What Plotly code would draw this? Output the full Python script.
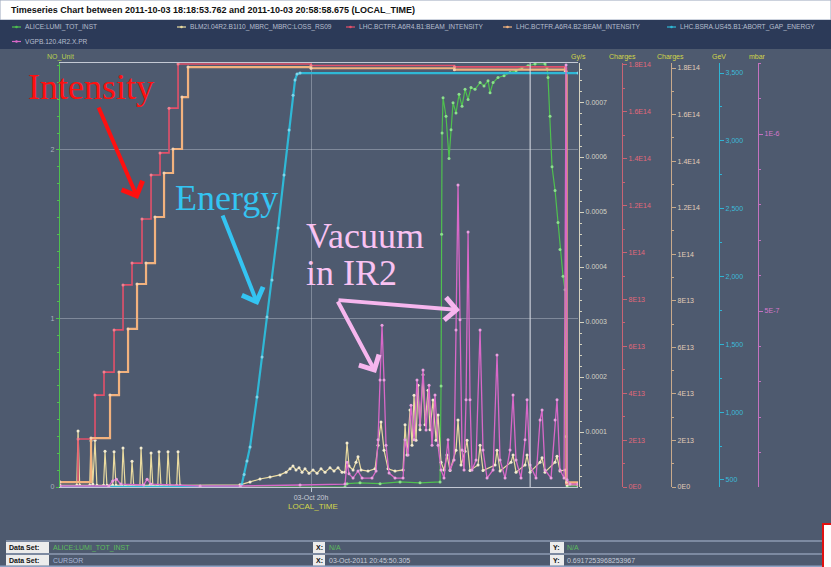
import pandas as pd
import plotly.graph_objects as go

W, H = 831, 567
T0 = pd.Timestamp("2011-10-03 19:00:00")
FONT = "Liberation Sans"
SERIF = "Liberation Serif"

# ---------------- data (minutes after 19:00 local time, values) ----------------
lumi_min = [7.49, 67.11, 67.53, 70.25, 74.44, 78.62, 82.80, 86.99, 87.20, 87.31, 87.41, 87.62,
            88.24, 88.87, 89.29, 89.71, 90.33, 90.96, 91.59, 92.22, 92.85, 93.47, 94.31, 95.36,
            96.19, 97.03, 97.45, 98.08, 99.12, 100.38, 101.63, 102.89, 104.14, 105.40, 106.86,
            108.95, 109.37, 109.58, 110.00, 110.42, 111.05, 111.67, 112.09, 112.72, 113.14,
            113.35, 113.56, 115.86]
lumi_val = [0.0, 0.0, 0.02, 0.025, 0.02, 0.03, 0.025, 0.03, 0.6, 1.5, 2.1, 2.31,
            2.2, 1.95, 2.12, 2.28, 2.22, 2.33, 2.26, 2.36, 2.30, 2.37, 2.36, 2.40,
            2.38, 2.41, 2.34, 2.40, 2.43, 2.44, 2.46, 2.47, 2.49, 2.50, 2.51,
            2.51, 2.49, 2.43, 2.20, 1.90, 1.76, 1.57, 1.41, 1.25, 1.17,
            0.3, 0.0, 0.0]

blm_min = [7.49, 11.0, 11.26, 11.6, 13.7, 13.97, 14.35, 14.81, 15.2, 16.6, 16.9, 17.3,
           18.5, 18.79, 19.2, 20.4, 20.67, 21.1, 22.3, 22.55, 22.9, 24.2, 24.44, 24.8,
           26.3, 26.53, 26.9, 27.95, 28.2, 28.6, 29.8, 30.08, 30.5, 31.9, 32.18, 32.6,
           45.15, 47.24, 49.33, 51.42, 53.51, 54.77, 55.61, 56.23, 56.86, 57.49, 58.12,
           58.74, 59.58, 60.42, 61.26, 62.09, 62.93, 63.97, 64.81, 65.65, 66.49, 67.11,
           67.53, 67.95, 68.79, 69.41, 69.83, 70.46, 71.92, 73.39, 74.02, 74.64, 75.27,
           76.11, 77.57, 79.25, 79.67, 80.08, 80.71, 81.13, 81.55, 81.97, 82.38, 82.80,
           83.43, 83.85, 84.48, 84.90, 85.52, 86.15, 86.57, 87.20, 87.82, 88.45, 89.08,
           90.33, 90.75, 91.38, 92.22, 92.64, 93.26, 94.94, 95.36, 95.98, 98.50, 98.91,
           99.54, 101.84, 102.26, 102.89, 104.77, 105.19, 105.82, 107.91, 108.33, 108.95,
           111.05, 111.46, 112.09, 113.14, 113.56, 115.86]
blm_val = [3e-6, 3e-6, 1.02e-4, 3e-6, 3e-6, 8.4e-5, 5e-6, 8.5e-5, 3e-6, 3e-6, 6.5e-5, 3e-6,
           3e-6, 6.4e-5, 3e-6, 3e-6, 7.1e-5, 3e-6, 3e-6, 4.7e-5, 3e-6, 3e-6, 7.1e-5, 3e-6,
           3e-6, 6.2e-5, 3e-6, 3e-6, 6.4e-5, 3e-6, 3e-6, 6.4e-5, 3e-6, 3e-6, 6.4e-5, 3e-6,
           4e-6, 9e-6, 1.45e-5, 1.8e-5, 2.2e-5, 2.7e-5, 3.3e-5, 3.8e-5, 3.1e-5, 3.5e-5, 2.7e-5,
           3.3e-5, 2.5e-5, 3.1e-5, 2.5e-5, 3.3e-5, 2.7e-5, 3.5e-5, 2.9e-5, 3.5e-5, 2.7e-5, 2.7e-5,
           8.0e-5, 3.8e-5, 3.1e-5, 4.5e-5, 5.5e-5, 3.1e-5, 2.9e-5, 3.3e-5, 7.6e-5, 1.18e-4, 6.7e-5,
           3.3e-5, 2.9e-5, 3.1e-5, 1.13e-4, 5.8e-5, 1.40e-4, 7.6e-5, 1.67e-4, 8.5e-5, 1.85e-4, 1.04e-4,
           2.04e-4, 1.13e-4, 1.76e-4, 1.04e-4, 1.58e-4, 8.5e-5, 1.31e-4, 4.5e-5, 3.1e-5, 5.8e-5, 3.0e-5,
           6.7e-5, 1.22e-4, 4.0e-5, 6.5e-5, 8.5e-5, 3.0e-5, 4.0e-5, 7.6e-5, 3.0e-5, 4.0e-5, 6.7e-5,
           2.9e-5, 4.5e-5, 5.8e-5, 2.7e-5, 4.0e-5, 5.8e-5, 2.7e-5, 4.5e-5, 5.3e-5, 2.7e-5,
           4.5e-5, 5.6e-5, 2.9e-5, 3.1e-5, 3.6e-6, 3.6e-6]

b1_min = [7.49, 11.26, 14.81, 16.69, 18.79, 20.67, 22.55, 24.64, 26.53, 28.41, 30.29, 32.18,
          60.0, 90.0, 113.2, 113.45, 115.86]
b1_val = [0.21e13, 2.05e13, 3.92e13, 4.90e13, 6.70e13, 8.62e13, 9.55e13, 11.43e13, 13.31e13,
          14.25e13, 16.16e13, 18.04e13, 17.98e13, 17.92e13, 17.87e13, 0.15e13, 0.10e13]

b2_min = [7.49, 13.97, 17.95, 19.83, 21.72, 23.60, 25.48, 27.36, 29.25, 31.13, 33.01, 34.27,
          60.0, 90.0, 113.2, 113.45, 115.86]
b2_val = [0.21e13, 2.10e13, 3.95e13, 4.94e13, 6.79e13, 8.72e13, 9.62e13, 11.60e13, 13.49e13,
          14.52e13, 16.75e13, 18.04e13, 17.99e13, 17.93e13, 17.85e13, 0.20e13, 0.15e13]

energy_min = [7.49, 45.15, 45.5, 46.0, 46.6, 47.24, 48.70, 49.75, 50.79, 51.84, 53.10, 54.35,
              55.40, 56.23, 56.65, 57.07, 57.70, 115.86]
energy_val = [450, 450, 465, 540, 640, 743, 1112, 1406, 1701, 1974, 2357, 2748,
              3080, 3337, 3448, 3492, 3500, 3500]

vac_min = [7.49, 17.7, 18.5, 19.3, 20.2, 25.0, 25.7, 26.5, 36.8, 45.2, 57.7, 67.11, 67.53, 67.95,
           68.79, 69.83, 70.67, 72.76, 73.6, 74.02, 74.44, 74.85, 75.27, 75.69, 76.32, 77.57,
           79.25, 79.67, 80.29, 80.92, 81.55, 82.17, 82.80, 83.43, 84.06, 84.69, 85.31, 85.94,
           86.57, 87.2, 87.82, 88.66, 89.08, 89.92, 90.33, 90.75, 91.17, 91.59, 92.01, 92.43,
           92.85, 93.26, 93.68, 94.52, 95.36, 95.98, 96.82, 98.08, 98.91, 99.54, 100.59, 101.63,
           102.26, 102.89, 103.93, 104.77, 105.19, 105.82, 107.07, 107.91, 108.33, 108.95, 110.21,
           111.05, 111.46, 112.09, 112.93, 113.35, 113.56, 114.18, 115.86]
vac_val = [5.6e-9, 5.6e-9, 2.0e-8, 2.5e-8, 1.1e-8, 8.5e-9, 2.5e-8, 1.1e-8, 5.6e-9, 5.6e-9, 8.5e-9,
           1.1e-8, 7.3e-8, 4.0e-8, 2.8e-8, 4.8e-8, 2.8e-8, 2.8e-8, 4.8e-8, 1.36e-7, 3.05e-7,
           4.6e-7, 3.05e-7, 1.21e-7, 4.2e-8, 2.8e-8, 2.8e-8, 1.36e-7, 9.3e-8, 2.34e-7, 1.36e-7,
           3.05e-7, 1.78e-7, 3.33e-7, 1.64e-7, 2.9e-7, 1.21e-7, 2.63e-7, 1.21e-7, 5.1e-8, 2.8e-8,
           1.36e-7, 5.1e-8, 7.9e-8, 4.46e-7, 8.56e-7, 4.75e-7, 1.07e-7, 5.1e-8, 2.49e-7, 7.23e-7,
           2.49e-7, 5.1e-8, 7.9e-8, 4.46e-7, 1.07e-7, 2.8e-8, 5.1e-8, 3.76e-7, 7.9e-8, 2.8e-8,
           1.07e-7, 2.63e-7, 7.9e-8, 2.8e-8, 1.36e-7, 2.49e-7, 6.5e-8, 2.8e-8, 1.92e-7, 2.2e-7,
           5.1e-8, 2.8e-8, 1.92e-7, 2.49e-7, 5.1e-8, 2.8e-8, 1.195e-6, 2.3e-8, 1.1e-8, 1.1e-8]

charge_ticks = [0, 2e13, 4e13, 6e13, 8e13, 1e14, 1.2e14, 1.4e14, 1.6e14, 1.8e14]
charge_text = ["0E0", "2E13", "4E13", "6E13", "8E13", "1E14", "1.2E14", "1.4E14", "1.6E14", "1.8E14"]
gys_ticks = [1e-4, 2e-4, 3e-4, 4e-4, 5e-4, 6e-4, 7e-4]
gys_text = ["0.0001", "0.0002", "0.0003", "0.0004", "0.0005", "0.0006", "0.0007"]
gev_ticks = [500, 1000, 1500, 2000, 2500, 3000, 3500]
gev_text = ["500", "1,000", "1,500", "2,000", "2,500", "3,000", "3,500"]
mbar_ticks = [5e-7, 1e-6]
mbar_text = ["5E-7", "1E-6"]
left_ticks = [0, 1, 2]

cursor_time = "2011-10-03 20:45:50.305"
x_view = ["2011-10-03 19:07:29", "2011-10-03 20:55:51"]

# ---------------- styling ----------------
BG = "#4e5a6f"
NAVY = "#2c3a58"
C_LUMI = "#4fc04f"
C_BLM = "#eadba0"
C_B1 = "#e2506a"
C_B2 = "#f2b27e"
C_EN = "#2fb8d6"
C_VAC = "#d868c8"


def tm(mins):
    return [T0 + pd.Timedelta(minutes=m) for m in mins]


def px(x):
    return x / W


def py(y):
    return 1 - y / H


fig = go.Figure()

traces = [
    ("LHC.BSRA.US45.B1:ABORT_GAP_ENERGY", energy_min, energy_val, "y5", C_EN, 2.2, "linear", "#7fd6ea"),
    ("LHC.BCTFR.A6R4.B2:BEAM_INTENSITY", b2_min, b2_val, "y4", C_B2, 2.2, "hv", "#f6d2b0"),
    ("LHC.BCTFR.A6R4.B1:BEAM_INTENSITY", b1_min, b1_val, "y3", C_B1, 1.6, "hv", "#f08090"),
    ("BLM2I.04R2.B1I10_MBRC_MBRC:LOSS_RS09", blm_min, blm_val, "y2", C_BLM, 1.2, "linear", "#f4ecd0"),
    ("VGPB.120.4R2.X.PR", vac_min, vac_val, "y6", C_VAC, 1.3, "linear", "#eaa0e0"),
    ("ALICE:LUMI_TOT_INST", lumi_min, lumi_val, "y", C_LUMI, 1.2, "linear", "#8ce08c"),
]
for name, xm, yv, ax, col, lw, shape, mcol in traces:
    fig.add_trace(go.Scatter(
        x=tm(xm), y=yv, yaxis=ax, name=name, mode="lines+markers",
        line=dict(color=col, width=lw, shape=shape),
        marker=dict(size=3, color=mcol), showlegend=False, hoverinfo="skip"))

DOM = [py(487), py(63)]


def raxis(xpos, col, labcol, rng, tv, tt, mdt):
    return dict(overlaying="y", anchor="free", position=px(xpos), side="right",
                range=rng, tickmode="array", tickvals=tv, ticktext=tt,
                ticks="outside", ticklen=4, tickcolor=col, tickwidth=1,
                showline=True, linecolor=col, linewidth=1.2, showgrid=False, zeroline=False,
                tickfont=dict(size=7, color=labcol, family=FONT),
                minor=dict(dtick=mdt, tick0=0, ticks="outside", ticklen=2, tickcolor=col, showgrid=False),
                automargin=False, fixedrange=True)


fig.update_layout(
    width=W, height=H, margin=dict(l=0, r=0, t=0, b=0),
    paper_bgcolor=BG, plot_bgcolor=BG, template="none",
    font=dict(family=FONT, size=7, color="#c8ccd6"),
    showlegend=False,
    xaxis=dict(domain=[px(60), px(578)], type="date", range=x_view,
               tickmode="array", tickvals=["2011-10-03 20:00:00"], ticktext=["03-Oct 20h"],
               ticks="outside", ticklen=4, tickcolor="#c0c6d2",
               tickfont=dict(size=7, color="#c8ccd6", family=FONT),
               showgrid=True, gridcolor="rgba(220,225,235,0.35)", gridwidth=1,
               showline=True, linecolor="#c4c9d4", linewidth=1, mirror=True,
               zeroline=False, automargin=False, fixedrange=True),
    yaxis=dict(domain=DOM, range=[0, 2.516], tickmode="array", tickvals=left_ticks,
               ticks="outside", ticklen=3, tickcolor=C_LUMI,
               tickfont=dict(size=7, color="#a9b2bc", family=FONT),
               showgrid=True, gridcolor="rgba(220,225,235,0.35)", gridwidth=1,
               showline=True, linecolor=C_LUMI, linewidth=1.2, zeroline=False,
               minor=dict(dtick=0.1, tick0=0, ticks="outside", ticklen=2, tickcolor=C_LUMI, showgrid=False),
               automargin=False, fixedrange=True),
    yaxis2=raxis(579, "#d6d3c0", "#d4d2c4", [0, 7.71e-4], gys_ticks, gys_text, 2e-5),
    yaxis3=raxis(622, "#c86474", "#e2687a", [0, 1.8085e14], charge_ticks, charge_text, 1e13),
    yaxis4=raxis(671, "#c8aa8c", "#e2cdb8", [0, 1.8215e14], charge_ticks, charge_text, 1e13),
    yaxis5=raxis(719, "#2fb4d4", "#3cbad8", [448, 3574], gev_ticks, gev_text, 250),
    yaxis6=raxis(758, "#c472c0", "#d678cc", [2.8e-9, 1.2006e-6], mbar_ticks, mbar_text, 1e-7),
)

# cursor line
fig.add_shape(type="line", xref="x", yref="paper", x0=cursor_time, x1=cursor_time,
              y0=DOM[0], y1=DOM[1], line=dict(color="#dfe3ea", width=1))

shapes = [
    dict(type="rect", xref="paper", yref="paper", x0=0, x1=1, y0=py(20), y1=1,
         fillcolor="#ffffff", line=dict(color="#9aa6bc", width=1), layer="below"),
    dict(type="rect", xref="paper", yref="paper", x0=0, x1=1, y0=py(49), y1=py(20),
         fillcolor=NAVY, line=dict(width=0), layer="below"),
    dict(type="line", xref="paper", yref="paper", x0=px(6), x1=px(822), y0=py(541), y1=py(541),
         line=dict(color="#8e9bb2", width=1.5)),
    dict(type="line", xref="paper", yref="paper", x0=px(6), x1=px(822), y0=py(554), y1=py(554),
         line=dict(color="#8e9bb2", width=1.5)),
    dict(type="line", xref="paper", yref="paper", x0=0, x1=px(822), y0=py(566.3), y1=py(566.3),
         line=dict(color="#8ea2c4", width=1.5)),
]
for (x0, x1) in [(6, 49), (313, 325), (550, 564)]:
    for (y0, y1) in [(542, 553), (555, 565.5)]:
        shapes.append(dict(type="rect", xref="paper", yref="paper", x0=px(x0), x1=px(x1),
                           y0=py(y1), y1=py(y0), fillcolor="#ececec", line=dict(width=0)))
shapes.append(dict(type="rect", xref="paper", yref="paper", x0=px(823), x1=px(833),
                   y0=py(569), y1=py(524), fillcolor="#ffffff", line=dict(color="#e01010", width=2)))
for s in shapes:
    fig.add_shape(**s)


def txt(x, y, s, color, size=7, bold=False, anchor="left", family=FONT):
    fig.add_annotation(xref="paper", yref="paper", x=px(x), y=py(y), text=("<b>%s</b>" % s) if bold else s,
                       showarrow=False, xanchor=anchor, yanchor="middle", borderpad=0,
                       font=dict(size=size, color=color, family=family))


txt(10, 10, "Timeseries Chart between 2011-10-03 18:18:53.762 and 2011-10-03 20:58:58.675 (LOCAL_TIME)",
    "#111111", size=9, bold=True)

# legend (drawn in the strip, as in the reference)
legend_items = [
    ("ALICE:LUMI_TOT_INST", C_LUMI, 12, 27),
    ("BLM2I.04R2.B1I10_MBRC_MBRC:LOSS_RS09", C_BLM, 177, 27),
    ("LHC.BCTFR.A6R4.B1:BEAM_INTENSITY", C_B1, 346, 27),
    ("LHC.BCTFR.A6R4.B2:BEAM_INTENSITY", C_B2, 503, 27),
    ("LHC.BSRA.US45.B1:ABORT_GAP_ENERGY", C_EN, 667, 27),
    ("VGPB.120.4R2.X.PR", C_VAC, 12, 41.5),
]
for name, col, lx, ly in legend_items:
    fig.add_shape(type="line", xref="paper", yref="paper", x0=px(lx), x1=px(lx + 9),
                  y0=py(ly), y1=py(ly), line=dict(color=col, width=1.2))
    fig.add_shape(type="circle", xref="paper", yref="paper", x0=px(lx + 3.2), x1=px(lx + 5.8),
                  y0=py(ly + 1.3), y1=py(ly - 1.3), fillcolor=col, line=dict(width=0))
    txt(lx + 12, ly, name, "#b6bece", size=6.6)

# axis titles
YEL = "#d2d64a"
txt(61, 57, "NO_Unit", "#b8d050", anchor="center")
txt(578, 57, "Gy/s", YEL, anchor="center")
txt(622, 57, "Charges", YEL, anchor="center")
txt(670, 57, "Charges", YEL, anchor="center")
txt(719, 57, "GeV", YEL, anchor="center")
txt(757, 57, "mbar", YEL, anchor="center")
txt(313, 506, "LOCAL_TIME", YEL, size=8, anchor="center")

# data panel
txt(8, 547.5, "Data Set:", "#111111", size=7, bold=True)
txt(8, 560.3, "Data Set:", "#111111", size=7, bold=True)
txt(52, 547.5, "ALICE:LUMI_TOT_INST", "#5cbc5c")
txt(52, 560.3, "CURSOR", "#a8b6d6")
txt(315, 547.5, "X:", "#111111", bold=True)
txt(315, 560.3, "X:", "#111111", bold=True)
txt(328, 547.5, "N/A", "#5cbc5c")
txt(328, 560.3, "03-Oct-2011 20:45:50.305", "#c6ccd8")
txt(552, 547.5, "Y:", "#111111", bold=True)
txt(552, 560.3, "Y:", "#111111", bold=True)
txt(566, 547.5, "N/A", "#5cbc5c")
txt(566, 560.3, "0.6917253968253967", "#c6ccd8")

# big slide labels
txt(27, 87, "Intensity", "#ff1010", size=36, family=SERIF)
txt(174, 198, "Energy", "#34c4f2", size=36, family=SERIF)
txt(305, 236, "Vacuum", "#f9c2f2", size=36, family=SERIF)
txt(305, 273, "in IR2", "#f9c2f2", size=36, family=SERIF)


def arrow(x_tail, y_tail, x_head, y_head, color):
    fig.add_annotation(xref="paper", yref="paper", x=px(x_head), y=py(y_head),
                       ax=x_tail - x_head, ay=y_tail - y_head, axref="pixel", ayref="pixel",
                       text="", showarrow=True, arrowhead=4, arrowsize=1.1, arrowwidth=4,
                       arrowcolor=color, standoff=0, startstandoff=0)


arrow(98, 106, 138, 199, "#ff1010")
arrow(222, 214, 258, 305, "#34c4f2")
arrow(337, 300, 376, 373, "#f6b6ee")
arrow(337, 300, 460, 310, "#f6b6ee")

fig.write_html("out.html", config={"displayModeBar": False, "staticPlot": True},
               post_script="document.body.style.margin='0px';document.body.style.overflow='hidden';")
